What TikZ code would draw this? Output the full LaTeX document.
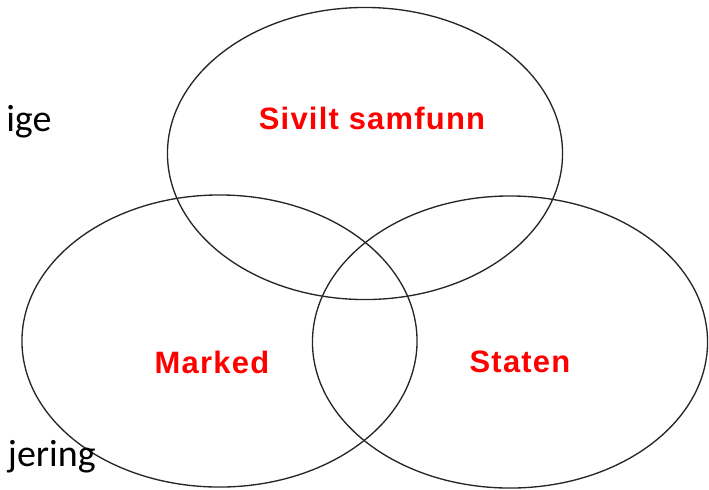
\documentclass[tikz,border=0pt]{standalone}
\usepackage{fontspec}
\usepackage{xcolor}
\usetikzlibrary{shapes.geometric, positioning}
\newfontfamily\labelfont[LetterSpace=4]{Liberation Sans}
\newfontfamily\slidefont{Carlito}

\begin{document}
\begin{tikzpicture}[
  x=0.025cm, y=-0.025cm,
  sector/.style={ellipse, draw=black!85, line width=0.95pt, minimum width=9.875cm, minimum height=7.3cm, inner sep=0pt},
  sectorlabel/.style={text=red, font=\labelfont\bfseries\fontsize{22}{26}\selectfont, inner sep=0pt},
  slidetext/.style={text=black, font=\slidefont\fontsize{27}{32}\selectfont, inner sep=0pt},
]
\useasboundingbox (0,0) rectangle (709,489);

% Sectors
\node[sector] (samfunn) at (365,153.5) {};
\node[sector] (marked) at (219.5,341) {};
\node[sector] (staten) at (510,342) {};

% Labels
\node[sectorlabel] (samfunnlabel) at (372,118) {Sivilt samfunn};
\node[sectorlabel] (markedlabel) at (212,362) {Marked};
\node[sectorlabel] (statenlabel) at (520,362) {Staten};

% Slide text behind the diagram
\node[slidetext, anchor=base west] (ige) at (6,131) {ige};
\node[slidetext, anchor=base east] (jering) at (96,466) {jering};

\end{tikzpicture}
\end{document}
